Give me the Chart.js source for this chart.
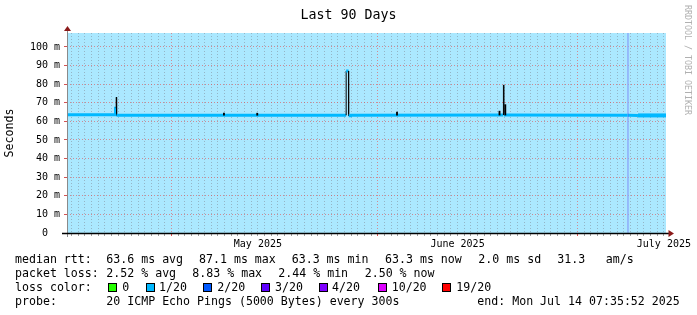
<!DOCTYPE html>
<html>
<head>
<meta charset="utf-8">
<script src="https://cdn.jsdelivr.net/npm/chart.js@4.4.1/dist/chart.umd.min.js"></script>
<style>
  body { margin: 0; background: #fff; }
  canvas { display: block; }
</style>
</head>
<body>
<canvas id="rttChart" width="697" height="315"></canvas>
<script>
// x axis: days since Apr 1 2025 00:00
var startDay = 14.3166;   // Apr 15 07:35:52
var endDay = 104.3166;    // Jul 14 07:35:52
var monthStarts = [30, 61, 91];
var monthLabelDays = [43, 73, 104];
var monthLabels = ['May 2025', 'June 2025', 'July 2025'];

// y axis (ms)
var yMax = 107.5;
var yLabelValues = [0, 10, 20, 30, 40, 50, 60, 70, 80, 90, 100];
var yLabelText = ['0  ', '10 m', '20 m', '30 m', '40 m', '50 m', '60 m', '70 m', '80 m', '90 m', '100 m'];

// median rtt (ms)
var medianDays = [14.3166, 21.60, 21.61, 21.70, 21.71, 21.76, 21.77, 56.25, 56.26, 56.62, 56.63, 56.95, 57.00,
                  79.88, 79.89, 79.97, 79.98, 98.55, 98.60, 98.70, 100.1, 104.3166];
var medianMs   = [63.6, 63.6, 67.0, 67.0, 73.0, 73.0, 63.3, 63.3, 87.1, 87.1, 63.0, 63.0, 63.3,
                  63.4, 79.6, 79.6, 63.4, 63.3, 63.3, 63.3, 63.2, 63.2];
var thickFromDay = 100.1;

// smoke: spread of single pings (ms)
var smokeDays = [37.9, 42.9, 63.9, 79.3, 80.17];
var smokeLow  = [63.3, 63.3, 63.3, 63.4, 63.4];
var smokeHigh = [64.4, 64.4, 65.0, 65.5, 69.0];

// steps with 2/20 packet loss
var loss2Days = [98.6];

var lossColors = ['#26ff00', '#00b8ff', '#0059ff', '#5e00ff', '#7e00ff', '#dd00ff', '#ff0000'];
var lossNames = ['0', '1/20', '2/20', '3/20', '4/20', '10/20', '19/20'];

var MONO = "'DejaVu Sans Mono'";
var redGrid = 'rgba(235,60,60,0.55)';
var grayGrid = 'rgba(120,120,130,0.45)';

function spikeSeg(ctx) {
  return Math.abs(ctx.p1.parsed.y - ctx.p0.parsed.y) > 4;
}
function loss2Seg(ctx) {
  for (var i = 0; i < loss2Days.length; i++) {
    if (ctx.p0.parsed.x <= loss2Days[i] && ctx.p1.parsed.x > loss2Days[i]) return true;
  }
  return false;
}

// plot background, axes, arrows, title, legend text
var rrdDecor = {
  id: 'rrdDecor',
  beforeDraw: function(chart) {
    var a = chart.chartArea, c = chart.ctx;
    c.save();
    c.fillStyle = '#ffffff';
    c.fillRect(0, 0, chart.width, chart.height);
    c.fillStyle = 'rgba(0,184,255,0.33)';
    c.fillRect(a.left, a.top, a.right - a.left, a.bottom - a.top);
    c.restore();
  },
  afterDraw: function(chart) {
    var a = chart.chartArea, c = chart.ctx;
    c.save();
    // axes
    c.lineWidth = 1;
    c.strokeStyle = '#8a8a8a';
    c.beginPath(); c.moveTo(a.left + 0.5, a.bottom + 4); c.lineTo(a.left + 0.5, a.top - 2); c.stroke();
    c.strokeStyle = '#000';
    c.lineWidth = 1.5;
    c.beginPath(); c.moveTo(a.left - 5, a.bottom + 0.5); c.lineTo(a.right + 4, a.bottom + 0.5); c.stroke();
    // arrows
    c.fillStyle = '#8b1a1a';
    c.beginPath(); c.moveTo(a.left + 0.5, a.top - 7); c.lineTo(a.left - 3, a.top - 2); c.lineTo(a.left + 4, a.top - 2); c.closePath(); c.fill();
    c.beginPath(); c.moveTo(a.right + 8, a.bottom + 0.5); c.lineTo(a.right + 2.5, a.bottom - 3); c.lineTo(a.right + 2.5, a.bottom + 4); c.closePath(); c.fill();

    // title
    c.fillStyle = '#000';
    c.font = '13.3px ' + MONO;
    c.textAlign = 'center';
    c.textBaseline = 'middle';
    c.fillText('Last 90 Days', chart.width / 2, 15.5);

    // watermark
    c.fillStyle = '#b0b0b0';
    c.font = '8.3px ' + MONO;
    c.textBaseline = 'middle';
    c.textAlign = 'left';
    c.translate(687, 5);
    c.rotate(Math.PI / 2);
    c.fillText('RRDTOOL / TOBI OETIKER', 0, 0);
    c.setTransform(1, 0, 0, 1, 0, 0);

    // legend
    c.fillStyle = '#000';
    c.font = '11.6px ' + MONO;
    c.textBaseline = 'alphabetic';
    var rows = [
      [263, [[15, 'median rtt:'], [106.3, '63.6 ms avg'], [199, '87.1 ms max'], [291.7, '63.3 ms min'], [385, '63.3 ms now'], [478.3, '2.0 ms sd'], [557.3, '31.3'], [605.7, 'am/s']]],
      [277, [[15, 'packet loss:'], [106.3, '2.52 % avg'], [192.3, '8.83 % max'], [278.3, '2.44 % min'], [364.7, '2.50 % now']]],
      [291, [[15, 'loss color:']]],
      [305, [[15, 'probe:'], [106.3, '20 ICMP Echo Pings (5000 Bytes) every 300s'], [477.3, 'end: Mon Jul 14 07:35:52 2025']]]
    ];
    rows.forEach(function(r) {
      r[1].forEach(function(t) { c.fillText(t[1], t[0], r[0]); });
    });
    var boxX = [108.3, 145.7, 203.3, 261, 319, 377.7, 442.3];
    var textX = [122.3, 159, 217.3, 275, 332, 391.7, 456.3];
    for (var i = 0; i < lossNames.length; i++) {
      c.fillStyle = '#000';
      c.fillRect(Math.round(boxX[i]), 283, 9, 9);
      c.fillStyle = lossColors[i];
      c.fillRect(Math.round(boxX[i]) + 1, 284, 7, 7);
      c.fillStyle = '#000';
      c.fillText(lossNames[i], textX[i], 291);
    }
    c.restore();
  }
};

var chart = new Chart(document.getElementById('rttChart'), {
  type: 'line',
  data: {
    datasets: [
      {
        type: 'bar',
        label: 'loss 2/20',
        data: loss2Days.map(function(d) { return {x: d, y: [0, yMax]}; }),
        backgroundColor: 'rgba(140,170,250,0.75)',
        barThickness: 1.3,
        grouped: false,
        order: 3
      },
      {
        type: 'line',
        label: 'median rtt',
        data: medianDays.map(function(d, i) { return {x: d, y: medianMs[i]}; }),
        borderColor: lossColors[1],
        borderWidth: 3,
        borderCapStyle: 'butt',
        pointRadius: 0,
        tension: 0,
        segment: {
          borderColor: function(ctx) {
            if (spikeSeg(ctx)) return '#000';
            if (loss2Seg(ctx)) return lossColors[2];
            return undefined;
          },
          borderWidth: function(ctx) {
            if (spikeSeg(ctx)) return 1;
            if (ctx.p0.parsed.x >= thickFromDay) return 4;
            return undefined;
          }
        },
        order: 1
      },
      {
        type: 'bar',
        label: 'smoke',
        data: smokeDays.map(function(d, i) { return {x: d, y: [smokeLow[i], smokeHigh[i]]}; }),
        backgroundColor: '#000',
        barThickness: 1.2,
        grouped: false,
        order: 0
      }
    ]
  },
  options: {
    responsive: false,
    animation: false,
    devicePixelRatio: 1,
    layout: { padding: { left: 0, right: 31, top: 33, bottom: 0 } },
    plugins: {
      legend: { display: false },
      tooltip: { enabled: false },
      title: { display: false }
    },
    scales: {
      x: {
        type: 'linear',
        min: startDay,
        max: endDay,
        offset: false,
        afterBuildTicks: function(scale) {
          var t = [];
          for (var d = Math.ceil(startDay); d <= endDay; d++) t.push({value: d});
          scale.ticks = t;
        },
        afterFit: function(scale) {
          scale.height = 82;
          scale.paddingLeft = 0;
          scale.paddingRight = 0;
        },
        ticks: {
          autoSkip: false,
          maxRotation: 0,
          minRotation: 0,
          padding: 2,
          color: '#000',
          font: { family: MONO, size: 10 },
          callback: function(v) {
            var k = monthLabelDays.indexOf(v);
            return k >= 0 ? monthLabels[k] : '';
          }
        },
        grid: {
          offset: false,
          drawTicks: true,
          tickLength: 3,
          lineWidth: 1,
          color: function(ctx) {
            return ctx.tick && monthStarts.indexOf(ctx.tick.value) >= 0 ? redGrid : grayGrid;
          },
          tickColor: function(ctx) {
            return ctx.tick && monthStarts.indexOf(ctx.tick.value) >= 0 ? 'rgba(220,40,40,0.8)' : 'rgba(120,120,120,0.7)';
          }
        },
        border: { display: false, dash: [1, 2] }
      },
      y: {
        type: 'linear',
        min: 0,
        max: yMax,
        afterBuildTicks: function(scale) {
          var t = [];
          for (var v = 0; v <= yMax; v += 5) t.push({value: v});
          scale.ticks = t;
        },
        afterFit: function(scale) {
          scale.width = 67;
        },
        ticks: {
          padding: 4,
          color: '#000',
          font: { family: MONO, size: 10 },
          callback: function(v) {
            var k = yLabelValues.indexOf(v);
            return k >= 0 ? yLabelText[k] : '';
          }
        },
        grid: {
          drawTicks: true,
          tickLength: 3,
          lineWidth: 1,
          color: function(ctx) {
            return ctx.tick && ctx.tick.value % 10 === 0 ? redGrid : grayGrid;
          },
          tickColor: function(ctx) {
            return ctx.tick && ctx.tick.value % 10 === 0 ? 'rgba(200,40,40,0.8)' : 'rgba(120,120,120,0.7)';
          }
        },
        border: { display: false, dash: [1, 2] },
        title: {
          display: true,
          text: 'Seconds',
          color: '#000',
          font: { family: MONO, size: 11.6 },
          padding: { top: 3, bottom: 0 }
        }
      }
    }
  },
  plugins: [rrdDecor]
});
</script>
</body>
</html>
